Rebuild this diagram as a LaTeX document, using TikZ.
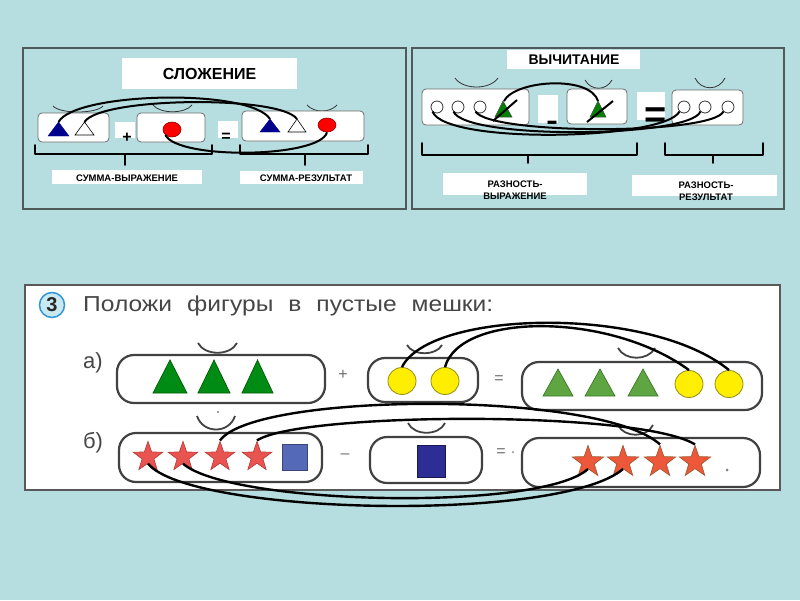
\documentclass[tikz,border=0pt]{standalone}
\usepackage{fontspec}
\usepackage{graphicx}
\setmainfont{Liberation Sans}
\usetikzlibrary{shapes.geometric}
\definecolor{bg}{RGB}{182,221,224}
\definecolor{panelc}{RGB}{80,90,90}
\definecolor{bagc}{RGB}{110,110,110}
\definecolor{bigbagc}{RGB}{65,65,65}
\definecolor{navyc}{RGB}{0,0,140}
\definecolor{redc}{RGB}{255,0,0}
\definecolor{redb}{RGB}{150,0,0}
\definecolor{greenT}{RGB}{0,130,0}
\definecolor{greenA}{RGB}{0,140,20}
\definecolor{greenAb}{RGB}{0,90,0}
\definecolor{greenB}{RGB}{95,165,65}
\definecolor{greenBb}{RGB}{60,120,40}
\definecolor{yellowc}{RGB}{255,238,0}
\definecolor{yellowb}{RGB}{150,140,20}
\definecolor{starA}{RGB}{232,85,80}
\definecolor{starAb}{RGB}{190,60,60}
\definecolor{starB}{RGB}{238,88,58}
\definecolor{starBb}{RGB}{160,90,50}
\definecolor{bluesq}{RGB}{85,105,185}
\definecolor{bluesqb}{RGB}{60,70,120}
\definecolor{navysq}{RGB}{45,45,150}
\definecolor{navysqb}{RGB}{25,25,80}
\definecolor{txtgray}{RGB}{70,70,70}
\definecolor{opgray}{RGB}{110,110,110}
\definecolor{cthreefill}{RGB}{200,232,242}
\definecolor{cthreedraw}{RGB}{50,150,210}
\begin{document}
\begin{tikzpicture}[x=1pt,y=-1pt,
 panel/.style={draw=panelc, line width=1.3pt},
 smallbag/.style={draw=bagc, fill=white, line width=0.8pt, rounded corners=4pt},
 bigbag/.style={draw=bigbagc, line width=2.2pt, rounded corners=17pt},
 handleA/.style={draw=black!80, line width=0.8pt},
 handleB/.style={draw=bigbagc, line width=1.8pt},
 link/.style={line width=2pt, black},
 linkB/.style={line width=2.4pt, black},
 bracestyle/.style={line width=1.8pt, black, line cap=round, line join=round},
 titlefont/.style={font=\fontsize{16}{16}\selectfont\bfseries},
 labfont/.style={font=\fontsize{9.5}{12}\selectfont\bfseries, align=center, inner sep=0pt},
 opfont/.style={font=\fontsize{16}{16}\selectfont, text=opgray, inner sep=0pt},
 smallcirc/.style={circle, draw=black!80, fill=white, line width=0.8pt, minimum size=12pt, inner sep=0pt},
 yell/.style={ellipse, draw=yellowb, fill=yellowc, line width=0.8pt, minimum width=28pt, minimum height=27pt, inner sep=0pt},
 redball/.style={ellipse, draw=redb, fill=redc, line width=0.6pt, minimum width=18pt, minimum height=15pt, inner sep=0pt},
 starone/.style={star, star points=5, star point ratio=2.5, minimum size=31pt, inner sep=0pt, draw=starAb, fill=starA, line width=0.7pt},
 startwo/.style={star, star points=5, star point ratio=2.5, minimum size=33pt, inner sep=0pt, draw=starBb, fill=starB, line width=0.7pt},
]
\fill[bg] (0,0) rectangle (800,600);
\useasboundingbox (0,0) rectangle (800,600);

%================ TOP LEFT PANEL =================
\draw[panel] (23,48) rectangle (406,209);
\fill[white] (122,58) rectangle (297,89);
\node[titlefont] (tA) at (209.5,74) {СЛОЖЕНИЕ};
% handles
\draw[handleA] (53,106) .. controls (60,114) and (96,114) .. (103,106);
\draw[handleA] (153,105) .. controls (160,114) and (185,114) .. (192,105);
\draw[handleA] (307,105) .. controls (314,113) and (330,113) .. (337,105);
% bags
\draw[smallbag] (38,113) rectangle (109,142);
\draw[smallbag] (137,113) rectangle (205,142);
\draw[smallbag] (242,111) rectangle (364,141);
% shapes
\filldraw[fill=navyc, draw=navyc] (48,136) -- (58.5,122) -- (69,136) -- cycle;
\filldraw[fill=white, draw=black, line width=0.6pt] (75,135) -- (84.5,122) -- (94,135) -- cycle;
\filldraw[fill=navyc, draw=navyc] (260,132) -- (270,119) -- (280,132) -- cycle;
\filldraw[fill=white, draw=black, line width=0.6pt] (288,132) -- (297,119) -- (306,132) -- cycle;
\coordinate (btA) at (58.5,122);
\coordinate (wtA) at (84.5,122);
\coordinate (btB) at (270,119);
\coordinate (wtB) at (297,119);
\node[redball] (rA) at (172,129.5) {};
\node[redball, minimum height=14pt] (rB) at (327,125) {};
% operators
\fill[white] (115,122) rectangle (135,138);
\node[font=\fontsize{16}{16}\selectfont\bfseries, inner sep=0pt] (plusA) at (127,138) {+};
\fill[white] (218,121) rectangle (238,138);
\node[font=\fontsize{16}{16}\selectfont\bfseries, inner sep=0pt] (eqA) at (226,137) {=};
% connectors
\draw[link] (btA) .. controls (75,92) and (250,88) .. (btB);
\draw[link] (wtA) .. controls (100,97) and (280,95) .. (wtB);
\draw[link] (rA.south west) .. controls (178,160) and (320,158) .. (rB.south);
% braces
\draw[bracestyle] (35,145) -- (35,154) -- (212,154) -- (212,145);
\draw[bracestyle] (125,154) -- (125,165);
\draw[bracestyle] (240,145) -- (240,154) -- (368,154) -- (368,145);
\draw[bracestyle] (305,154) -- (305,165);
% labels
\fill[white] (52,170) rectangle (202,184);
\node[labfont] (lA1) at (127,178.5) {СУММА-ВЫРАЖЕНИЕ};
\fill[white] (240,171) rectangle (363,184);
\node[labfont] (lA2) at (306,178.5) {СУММА-РЕЗУЛЬТАТ};

%================ TOP RIGHT PANEL =================
\draw[panel] (412,48) rectangle (784,209);
\fill[white] (507,50) rectangle (640,69);
\node[font=\fontsize{14}{14}\selectfont\bfseries] (tB) at (574,60) {ВЫЧИТАНИЕ};
% handles
\draw[handleA] (455,78) .. controls (463,90) and (490,90) .. (498,78);
\draw[handleA] (585,80) .. controls (591,91) and (606,91) .. (612,80);
\draw[handleA] (695,78) .. controls (701,91) and (719,91) .. (725,78);
% bags
\draw[smallbag] (422,89) rectangle (529,125);
\draw[smallbag] (567,89) rectangle (627,124);
\draw[smallbag] (672,90) rectangle (743,125);
% circles
\node[smallcirc] (cA1) at (437,107) {};
\node[smallcirc] (cA2) at (458,107) {};
\node[smallcirc] (cA3) at (480,107) {};
\node[smallcirc] (cB1) at (684,107) {};
\node[smallcirc] (cB2) at (705,107) {};
\node[smallcirc] (cB3) at (728,107) {};
% crossed triangles
\filldraw[fill=greenT, draw=black!70, line width=0.5pt] (495,117) -- (503,101) -- (512,117) -- cycle;
\draw[line width=2pt] (493,121) -- (517,100);
\filldraw[fill=greenT, draw=black!70, line width=0.5pt] (590,117) -- (598,101) -- (606,117) -- cycle;
\draw[line width=2pt] (587,122) -- (613,101);
\coordinate (txA) at (504,101);
\coordinate (txB) at (598,101);
% operators
\fill[white] (538,95) rectangle (558,123);
\node[inner sep=0pt] (minusB) at (552,126) {\scalebox{1}[1.8]{\fontsize{18}{18}\selectfont\bfseries –}};
\fill[white] (637,92) rectangle (665,120);
\node[inner sep=0pt, font=\fontsize{38}{38}\selectfont\bfseries] (eqB) at (656,118) {=};
% connectors
\draw[link] (txA) .. controls (515,80) and (590,75) .. (txB);
\draw[link] (cA1.south west) .. controls (445,145) and (665,140) .. (cB1.south west);
\draw[link] (cA2.south west) .. controls (465,140) and (690,138) .. (cB2.south west);
\draw[link] (cA3.south west) .. controls (490,135) and (712,135) .. (cB3.south west);
% braces
\draw[bracestyle] (422,143) -- (422,155) -- (637,155) -- (637,143);
\draw[bracestyle] (528,155) -- (528,163);
\draw[bracestyle] (665,143) -- (665,155) -- (763,155) -- (763,143);
\draw[bracestyle] (713,155) -- (713,163);
% labels
\fill[white] (443,173) rectangle (587,195);
\node[labfont] (lB1) at (515,190.5) {РАЗНОСТЬ-\\ВЫРАЖЕНИЕ};
\fill[white] (632,175) rectangle (777,196);
\node[labfont] (lB2) at (706,191.5) {РАЗНОСТЬ-\\РЕЗУЛЬТАТ};

%================ BOTTOM PANEL =================
\filldraw[fill=white, draw=black!65, line width=1.2pt] (25,285) rectangle (780,490);
\node[circle, draw=cthreedraw, fill=cthreefill, line width=1.5pt, minimum size=25pt, inner sep=0pt,
      font=\fontsize{20}{20}\selectfont\bfseries, text=black!85] (num) at (52,305) {3};
\node[anchor=base west, inner sep=0pt, text=txtgray] (task) at (83,311)
  {\scalebox{1.17}[1.03]{\fontsize{21}{21}\selectfont Положи\hspace{7pt} фигуры\hspace{7pt} в\hspace{7pt} пустые\hspace{7pt} мешки:}};
\node[font=\fontsize{22}{22}\selectfont, text=txtgray, inner sep=0pt] (la) at (93,363) {а)};
\node[font=\fontsize{22}{22}\selectfont, text=txtgray, inner sep=0pt] (lb) at (93,443) {б)};
% handles
\draw[handleB] (198,343) .. controls (205,356) and (230,356) .. (237,343);
\draw[handleB] (407,345) .. controls (413,356) and (436,356) .. (442,345);
\draw[handleB] (618,348) .. controls (625,361) and (648,361) .. (655,348);
\draw[handleB] (197,416) .. controls (203,434) and (229,434) .. (235,416);
\draw[handleB] (408,423) .. controls (414,436) and (439,436) .. (445,423);
\draw[handleB] (618,425) .. controls (624,438) and (647,438) .. (653,425);
% bags
\draw[bigbag] (117,355) rectangle (325,403);
\draw[bigbag] (368,358) rectangle (478,402);
\draw[bigbag] (522,362) rectangle (762,410);
\draw[bigbag] (119,433) rectangle (322,482);
\draw[bigbag] (370,437) rectangle (482,483);
\draw[bigbag] (522,438) rectangle (760,487);
% row a shapes
\filldraw[fill=greenA, draw=greenAb, line width=0.7pt] (153,393) -- (170,360) -- (187,393) -- cycle;
\filldraw[fill=greenA, draw=greenAb, line width=0.7pt] (198,393) -- (214,360) -- (230,393) -- cycle;
\filldraw[fill=greenA, draw=greenAb, line width=0.7pt] (242,393) -- (257.5,360) -- (273,393) -- cycle;
\node[yell] (yA1) at (402,381) {};
\node[yell] (yA2) at (445,381) {};
\filldraw[fill=greenB, draw=greenBb, line width=0.7pt] (543,396) -- (558,369) -- (573,396) -- cycle;
\filldraw[fill=greenB, draw=greenBb, line width=0.7pt] (585,396) -- (600,369) -- (615,396) -- cycle;
\filldraw[fill=greenB, draw=greenBb, line width=0.7pt] (628,396) -- (643,369) -- (658,396) -- cycle;
\node[yell] (yB1) at (689,384) {};
\node[yell] (yB2) at (729,384) {};
% row b shapes
\node[starone] (sA1) at (148,457) {};
\node[starone] (sA2) at (183,457) {};
\node[starone] (sA3) at (220,457) {};
\node[starone] (sA4) at (257,457) {};
\filldraw[fill=bluesq, draw=bluesqb, line width=0.7pt] (282,444) rectangle (307,470);
\filldraw[fill=navysq, draw=navysqb, line width=0.7pt] (417,445) rectangle (445,477);
\node[startwo] (sB1) at (588,462) {};
\node[startwo] (sB2) at (623,462) {};
\node[startwo] (sB3) at (660,462) {};
\node[startwo] (sB4) at (695,462) {};
% operators
\node[opfont] (plusC) at (343,375) {+};
\node[opfont] (eqC) at (499,380) {=};
\node[opfont] (minusC) at (345,456) {–};
\node[opfont] (eqD) at (501,453) {=};
% small dots
\fill[gray] (218,412) circle (1.2);
\fill[gray] (513,452) circle (1);
\fill[gray] (727,470) circle (1.5);
% connectors
\draw[linkB] (yA1.north) .. controls (430,310) and (650,305) .. (yB2.north);
\draw[linkB] (yA2.north) .. controls (460,312) and (610,312) .. (yB1.north);
\draw[linkB] (sA3.north) .. controls (255,392) and (600,390) .. (sB3.north);
\draw[linkB] (sA4.north) .. controls (300,412) and (640,410) .. (sB4.north);
\draw[linkB] (sA1.south) .. controls (190,515) and (560,523) .. (sB2.south);
\draw[linkB] (sA2.south) .. controls (230,505) and (540,512) .. (sB1.south);
\end{tikzpicture}
\end{document}
